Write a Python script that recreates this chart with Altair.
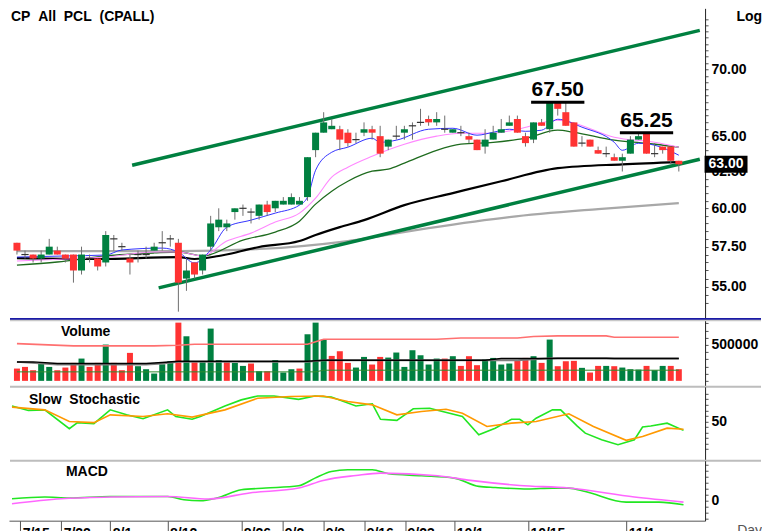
import altair as alt
import pandas as pd

# ---------------- values ----------------
date_tick_idx = [1, 6, 12, 19, 28, 33, 38, 43, 48, 54, 63, 75]
date_tick_lab = ["7/15", "7/22", "8/1", "8/12", "8/26", "9/2", "9/9", "9/16",
                 "9/23", "10/1", "10/15", "11/1"]

opens = [57.75, 57.0, 57.0, 56.75, 57.0, 57.25, 57.0, 57.0, 56.0, 56.75,
         56.75, 56.5, 58.0, 57.5, 56.75, 57.0, 57.0, 57.25, 57.75, 58.0,
         57.75, 55.5, 56.5, 56.0, 57.5, 58.75, 58.75, 59.75, 60.0, 59.75,
         59.5, 60.25, 60.0, 60.25, 60.25, 60.25, 60.75, 64.0, 65.25, 65.5,
         65.5, 65.25, 64.75, 65.25, 65.5, 65.0, 64.25, 65.0, 65.25, 65.75,
         66.0, 66.25, 66.0, 65.5, 65.25, 65.25, 65.0, 64.75, 64.25, 64.75,
         65.25, 65.75, 66.25, 65.0, 64.75, 66.0, 65.5, 67.5, 66.75, 66.0,
         64.5, 64.75, 64.0, 63.75, 63.5, 63.25, 63.75, 64.75, 65.25, 63.75,
         64.25, 64.25, 63.25]
highs = [57.75, 57.25, 57.0, 57.25, 58.0, 57.5, 57.0, 57.0, 57.5, 57.0,
         56.75, 58.5, 58.25, 57.75, 57.0, 57.25, 57.5, 57.75, 58.5, 58.25,
         58.0, 56.75, 56.5, 57.0, 59.5, 60.0, 59.25, 60.0, 60.25, 60.0,
         60.25, 60.5, 60.5, 60.75, 61.0, 60.75, 63.5, 65.25, 66.75, 66.25,
         65.75, 65.5, 65.25, 66.0, 65.75, 65.75, 64.75, 65.75, 65.75, 66.0,
         67.0, 66.5, 66.75, 66.5, 65.5, 65.75, 65.25, 64.75, 65.5, 65.75,
         66.25, 66.5, 66.5, 65.25, 66.0, 66.25, 67.5, 67.5, 67.5, 66.0,
         65.0, 64.75, 64.25, 64.25, 63.75, 63.75, 65.0, 65.25, 65.25, 64.5,
         64.25, 64.25, 63.25]
lows = [57.0, 56.75, 56.5, 56.5, 57.0, 57.0, 56.5, 55.25, 55.75, 56.5,
        56.0, 56.25, 57.25, 57.25, 55.75, 56.5, 56.75, 57.25, 57.25, 57.5,
        53.5, 54.75, 55.5, 55.75, 57.25, 58.5, 58.5, 59.25, 59.5, 59.0,
        59.25, 59.5, 59.75, 60.25, 60.25, 60.25, 60.5, 63.5, 65.25, 65.5,
        64.0, 64.25, 64.5, 65.0, 64.75, 63.5, 64.0, 64.75, 64.75, 64.75,
        65.75, 65.75, 65.75, 65.25, 65.25, 65.0, 64.5, 64.0, 63.75, 64.75,
        65.25, 65.75, 65.25, 64.25, 64.5, 65.75, 65.25, 66.5, 65.75, 64.25,
        64.25, 64.25, 63.75, 63.5, 63.25, 62.5, 63.75, 64.75, 63.75, 63.5,
        63.75, 63.0, 62.5]
closes = [57.25, 57.0, 56.75, 57.0, 57.5, 57.0, 56.75, 56.0, 57.0, 56.75,
          56.25, 58.25, 58.0, 57.5, 56.5, 57.0, 57.0, 57.5, 57.75, 58.0,
          55.25, 56.0, 55.75, 57.0, 59.0, 59.25, 59.0, 60.0, 60.0, 59.75,
          60.25, 59.75, 60.5, 60.5, 60.75, 60.5, 63.5, 65.25, 66.0, 65.75,
          64.75, 64.5, 64.75, 65.5, 65.25, 63.75, 64.75, 65.0, 65.5, 65.75,
          66.0, 66.0, 66.25, 65.5, 65.5, 65.25, 64.75, 64.0, 64.75, 65.25,
          65.5, 66.0, 65.25, 64.5, 66.0, 65.75, 67.5, 67.0, 65.75, 64.25,
          64.5, 64.25, 63.75, 63.75, 63.25, 63.5, 64.75, 65.0, 63.75, 63.75,
          64.0, 63.25, 63.0]
volumes = [171000, 194000, 148000, 250000, 194000, 148000, 185000, 250000, 310000, 194000,
           250000, 505000, 250000, 148000, 389000, 204000, 162000, 102000, 231000, 273000,
           810000, 620000, 264000, 273000, 727000, 287000, 273000, 250000, 208000, 241000,
           134000, 134000, 287000, 116000, 162000, 171000, 648000, 810000, 574000, 347000,
           412000, 250000, 185000, 333000, 227000, 333000, 324000, 394000, 194000, 426000,
           356000, 227000, 310000, 310000, 343000, 208000, 343000, 218000, 301000, 319000,
           227000, 241000, 287000, 319000, 343000, 250000, 574000, 204000, 273000, 278000,
           181000, 116000, 208000, 208000, 204000, 185000, 162000, 157000, 208000, 148000,
           208000, 208000, 162000]

# moving averages on price (bar index, price)
ma_blue_idx = [0, 6, 11, 13, 18, 20, 22, 24, 26, 29, 32, 35, 36, 37, 39, 41, 44, 45, 47,
               51, 54, 57, 59, 61, 63, 65, 67, 70, 74, 75, 77, 79, 82]
ma_blue_val = [56.84, 56.91, 56.97, 57.29, 57.41, 57.16, 56.47, 57.29, 58.76, 59.22, 59.68,
               60.21, 60.75, 62.59, 63.85, 64.21, 64.85, 64.56, 64.71, 65.50, 65.57, 65.07,
               65.28, 65.50, 65.35, 65.43, 66.23, 65.65, 64.56, 63.99, 64.49, 64.35, 63.64]
ma_pink_idx = [0, 6, 11, 17, 20, 23, 26, 29, 32, 35, 37, 39, 41, 44, 48, 52, 55, 59, 62,
               67, 69, 74, 79, 82]
ma_pink_val = [56.59, 56.72, 56.84, 57.16, 57.16, 56.91, 57.86, 58.37, 59.09, 59.68, 60.68,
               62.11, 62.80, 63.57, 64.42, 65.00, 65.21, 65.21, 65.50, 66.16, 65.94, 64.92,
               64.56, 64.21]
ma_dgreen_idx = [0, 5, 11, 17, 20, 23, 28, 32, 35, 37, 39, 41, 44, 46, 48, 52, 55, 59, 63,
                 67, 69, 74, 78, 82]
ma_dgreen_val = [56.34, 56.53, 56.91, 57.10, 57.16, 56.91, 57.92, 58.44, 59.15, 60.28, 61.15,
                 61.83, 62.52, 62.66, 63.08, 63.99, 64.42, 64.56, 64.85, 65.43, 65.28, 64.71,
                 64.49, 64.21]
ma_black_idx = [0, 10, 20, 22, 25, 30, 35, 37, 40, 43, 48, 54, 60, 67, 75, 82]
ma_black_val = [56.78, 56.72, 56.84, 56.72, 56.91, 57.48, 57.86, 58.25, 58.76, 59.22, 60.21,
                61.02, 61.83, 62.73, 63.00, 63.15]
ma_gray_idx = [0, 20, 30, 41, 51, 61, 72, 82]
ma_gray_val = [57.22, 57.22, 57.35, 57.86, 58.70, 59.42, 59.95, 60.35]

# trend channel (bar index, price)
chan_lower_idx = [17.56, 84.6]
chan_lower_val = [54.93, 63.36]
chan_upper_idx = [14.27, 84.6]
chan_upper_val = [62.94, 73.09]

# annotated highs
peak_idx = [67, 78]
peak_val = [67.5, 65.25]
peak_lab = ["67.50", "65.25"]

# volume averages
vma_pink_idx = [0, 7, 17, 20, 22, 36, 38, 52, 55, 62, 64, 67, 73, 74, 82]
vma_pink_val = [518000, 486000, 486000, 495000, 509000, 509000, 579000, 579000, 597000,
                597000, 616000, 625000, 625000, 606000, 606000]
vma_black_idx = [0, 2, 5, 16, 18, 20, 36, 38, 58, 60, 82]
vma_black_val = [264000, 264000, 241000, 241000, 255000, 273000, 273000, 287000, 287000,
                 310000, 310000]
vma_gray_idx = [0, 5, 16, 18, 20, 36, 38, 62, 64, 67, 73, 74, 82]
vma_gray_val = [264000, 227000, 227000, 241000, 264000, 264000, 287000, 287000, 301000,
                319000, 319000, 310000, 310000]
vma_green_idx = [0, 37, 38, 82]
vma_green_val = [125000, 125000, 148000, 148000]

# slow stochastic
stoch_k_idx = [0, 2, 4, 7, 8, 10, 12, 14, 16, 19, 20, 22, 23, 26, 28, 30, 32, 35, 37, 39,
               42, 44, 45, 47, 49, 51, 55, 57, 59, 61, 62, 63, 64, 66, 67, 69, 70, 72, 74,
               76, 77, 78, 80, 82]
stoch_k_val = [78, 70, 71, 37, 48, 46, 71, 62, 55, 71, 59, 54, 59, 78, 89, 96, 96, 90, 96, 94,
               78, 82, 54, 52, 73, 74, 59, 26, 38, 54, 54, 44, 56, 71, 71, 42, 29, 17, 8,
               17, 40, 42, 47, 34]
stoch_d_idx = [0, 4, 7, 10, 12, 16, 19, 22, 26, 30, 34, 38, 41, 44, 47, 50, 53, 55, 58, 61,
               64, 68, 71, 75, 77, 80, 82]
stoch_d_val = [76, 71, 50, 48, 62, 59, 64, 58, 71, 92, 95, 96, 86, 80, 62, 68, 72, 65, 41, 47,
               50, 64, 41, 16, 23, 38, 36]

# MACD
macd_idx = [0, 4, 7, 12, 19, 21, 23, 25, 28, 31, 35, 37, 39, 41, 44, 46, 50, 54, 57, 59,
            63, 66, 68, 70, 75, 79, 82]
macd_val = [0.14, 0.28, 0.20, 0.33, 0.33, 0.06, -0.03, 0.20, 0.89, 1.03, 1.22, 1.86, 2.42,
            2.56, 2.56, 2.22, 2.06, 1.86, 1.17, 1.08, 0.95, 1.03, 1.03, 0.75, -0.14, -0.14,
            -0.36]
signal_idx = [0, 6, 12, 19, 24, 29, 35, 38, 42, 45, 52, 56, 62, 68, 76, 82]
signal_val = [-0.28, 0.14, 0.28, 0.33, 0.12, 0.62, 1.03, 1.67, 2.08, 2.28, 2.06, 1.67, 1.25,
              1.03, 0.28, -0.14]

# ---------------- chart ----------------
FONT = "Liberation Sans"
W = 697
RIGHT = 754          # keep the whole drawing inside the page width
H_PRICE, H_VOL, H_STO, H_MACD = 311, 68, 74, 60

n = len(closes)
candles = pd.DataFrame({"i": list(range(n)), "o": opens, "h": highs, "l": lows,
                        "c": closes, "v": volumes})
candles["dir"] = ["up" if c > o else ("down" if c < o else "flat")
                  for o, c in zip(opens, closes)]
vdir = ["down"]
for k in range(1, n):
    vdir.append("up" if closes[k] > closes[k - 1] else
                ("down" if closes[k] < closes[k - 1] else "flat"))
candles["vdir"] = vdir

xs = alt.Scale(domain=[-0.366, 84.634], nice=False, zero=False)


def X(field="i", axis=None):
    return alt.X(f"{field}:Q", scale=xs, axis=axis, title=None)


def right_axis(values, expr):
    return alt.Axis(orient="right", values=values, labelExpr=expr, title=None,
                    tickSize=3, tickColor="#555555", domainColor="#222222",
                    labelFont=FONT, labelFontSize=14, labelFontWeight="bold",
                    labelColor="#000000", labelPadding=3, labelOverlap=False,
                    grid=False)


def line(idx, vals, color, width, yscale, yaxis, interp="monotone", xaxis=None):
    d = pd.DataFrame({"i": idx, "val": vals})
    return alt.Chart(d).mark_line(color=color, strokeWidth=width, interpolate=interp).encode(
        x=X(axis=xaxis), y=alt.Y("val:Q", scale=yscale, axis=yaxis, title=None))


def label(text, x, y, size=14, weight="bold", color="#000000", align="left", baseline="middle"):
    return alt.Chart(pd.DataFrame({"t": [0]})).mark_text(
        text=text, font=FONT, fontSize=size, fontWeight=weight, color=color,
        align=align, baseline=baseline).encode(x=alt.value(x), y=alt.value(y))


def hsep(y, color, width):
    return alt.Chart(pd.DataFrame({"t": [0]})).mark_rule(color=color, strokeWidth=width).encode(
        x=alt.value(1), x2=alt.value(RIGHT - 1), y=alt.value(y))


# ---- price panel ----
ys_p = alt.Scale(type="log", domain=[53.07, 74.9], nice=False)
price_ticks = [54 + 0.5 * k for k in range(41)]
PA = right_axis(price_ticks,
                "indexof([55,57.5,60,62.5,65,70], datum.value) >= 0 ? format(datum.value, '.2f') : ''")


def YP(field):
    return alt.Y(f"{field}:Q", scale=ys_p, axis=PA, title=None)


wicks = alt.Chart(candles).mark_rule(color="#6e6e6e", strokeWidth=1).encode(
    x=X(), y=YP("l"), y2="h:Q")
bodies = alt.Chart(candles).transform_filter("datum.o != datum.c").mark_bar(size=7).encode(
    x=X(), y=YP("o"), y2="c:Q",
    color=alt.Color("dir:N", scale=alt.Scale(domain=["up", "down"], range=["#008040", "#ff3333"]),
                    legend=None))
doji = alt.Chart(candles).transform_filter("datum.o == datum.c").transform_calculate(
    xa="datum.i - 0.45", xb="datum.i + 0.45").mark_rule(color="#333333", strokeWidth=1.2).encode(
    x=X("xa"), x2="xb:Q", y=YP("c"))

chan = pd.DataFrame({"i": chan_lower_idx + chan_upper_idx,
                     "val": chan_lower_val + chan_upper_val,
                     "g": ["lower"] * 2 + ["upper"] * 2})
channel = alt.Chart(chan).mark_line(color="#008040", strokeWidth=3.5).encode(
    x=X(), y=YP("val"), detail="g:N")

peaks = pd.DataFrame({"i": peak_idx, "p": peak_val, "lab": peak_lab})
peak_text = alt.Chart(peaks).mark_text(font=FONT, fontSize=21, fontWeight="bold",
                                       baseline="bottom", dy=-2, color="#000000").encode(
    x=X(), y=YP("p"), text="lab:N")
peak_line = alt.Chart(peaks).transform_calculate(xa="datum.i - 3.3", xb="datum.i + 3.3").mark_rule(
    color="#000000", strokeWidth=3).encode(x=X("xa"), x2="xb:Q", y=YP("p"))

last = pd.DataFrame({"p": [closes[-1]], "lab": [f"{closes[-1]:.2f}"]})
box = alt.Chart(last).mark_point(shape="M-1,-0.395H1V0.395H-1Z", size=1849, filled=True,
                                 color="#000000", opacity=1, strokeWidth=0).encode(
    x=alt.value(718), y=YP("p"))
box_text = alt.Chart(last).mark_text(font=FONT, fontSize=14, fontWeight="bold", color="#ffffff",
                                     align="center", baseline="middle").encode(
    x=alt.value(718), y=YP("p"), text="lab:N")

price = alt.layer(
    line(ma_gray_idx, ma_gray_val, "#a8a8a8", 2.2, ys_p, PA),
    line(ma_black_idx, ma_black_val, "#000000", 2.2, ys_p, PA),
    line(ma_dgreen_idx, ma_dgreen_val, "#1e6b1e", 1.3, ys_p, PA),
    line(ma_pink_idx, ma_pink_val, "#ff88ff", 1.1, ys_p, PA),
    line(ma_blue_idx, ma_blue_val, "#3333ff", 1.0, ys_p, PA),
    channel, wicks, bodies, doji, peak_line, peak_text, box, box_text,
    label("CP\u00a0\u00a0All\u00a0\u00a0PCL\u00a0\u00a0(CPALL)", 2, 9),
    label("Log", RIGHT, 9, align="right"),
    hsep(H_PRICE, "#1a1aa6", 2),
).properties(width=W, height=H_PRICE)

# ---- volume panel ----
vs = alt.Scale(domain=[-83333, 861111], nice=False, zero=False)
VA = right_axis([k * 100000 for k in range(9)], "datum.value == 500000 ? '500000' : ''")
vbars = alt.Chart(candles).mark_bar(size=6).encode(
    x=X(), y=alt.Y("v:Q", scale=vs, axis=VA, title=None), y2=alt.datum(0),
    color=alt.Color("vdir:N", scale=alt.Scale(domain=["up", "down", "flat"],
                                              range=["#00ee00", "#ff3333", "#ffff00"]),
                    legend=None))
vol = alt.layer(
    vbars,
    line(vma_pink_idx, vma_pink_val, "#ff7070", 1.6, vs, VA, "linear"),
    line(vma_gray_idx, vma_gray_val, "#808080", 2.0, vs, VA, "linear"),
    line(vma_black_idx, vma_black_val, "#000000", 1.5, vs, VA, "linear"),
    line(vma_green_idx, vma_green_val, "#2e8b2e", 1.0, vs, VA, "linear"),
    label("Volume", 52, 13),
    hsep(1.5, "#c8c8c8", 1.5),
    hsep(H_VOL, "#bdbdbd", 2),
).properties(width=W, height=H_VOL)

# ---- stochastic panel ----
ss = alt.Scale(domain=[-20.8, 112.5], nice=False, zero=False)
SA = right_axis([k * 10 for k in range(11)], "datum.value == 50 ? '50' : ''")
sto = alt.layer(
    line(stoch_k_idx, stoch_k_val, "#22e622", 1.6, ss, SA, "linear"),
    line(stoch_d_idx, stoch_d_val, "#ff9900", 1.6, ss, SA, "linear"),
    label("Slow\u00a0\u00a0Stochastic", 20, 13),
    hsep(H_STO, "#bdbdbd", 2),
).properties(width=W, height=H_STO)

# ---- MACD panel ----
ms = alt.Scale(domain=[-1.69, 3.31], nice=False, zero=False)
MA = right_axis([-1.5 + 0.5 * k for k in range(10)], "datum.value == 0 ? '0' : ''")
lab_js = "[" + ",".join(f"'{s}'" for s in date_tick_lab) + "]"
idx_js = "[" + ",".join(str(v) for v in date_tick_idx) + "]"
XA = alt.Axis(values=date_tick_idx, labelExpr=f"{lab_js}[indexof({idx_js}, datum.value)]",
              orient="bottom", tickSize=10, labelPadding=-4, labelAlign="left",
              labelOffset=2, labelBaseline="top", labelFont=FONT, labelFontSize=14,
              labelFontWeight="bold", labelColor="#000000", domainColor="#555555",
              tickColor="#555555", labelOverlap=False, labelFlush=False, grid=False,
              title=None)
macd = alt.layer(
    line(macd_idx, macd_val, "#22e622", 1.6, ms, MA, "monotone", XA),
    line(signal_idx, signal_val, "#ff66ff", 1.6, ms, MA, "monotone", XA),
    label("MACD", 57, 11),
    label("Day", RIGHT, 63, weight="normal", color="#555555", align="right", baseline="top"),
).properties(width=W, height=H_MACD)

chart = alt.vconcat(price, vol, sto, macd, spacing=0, bounds="flush").properties(
    padding=0).configure_view(strokeWidth=0).configure_axis(grid=False)

chart.save("out.html", embed_options={"renderer": "svg", "actions": False})
